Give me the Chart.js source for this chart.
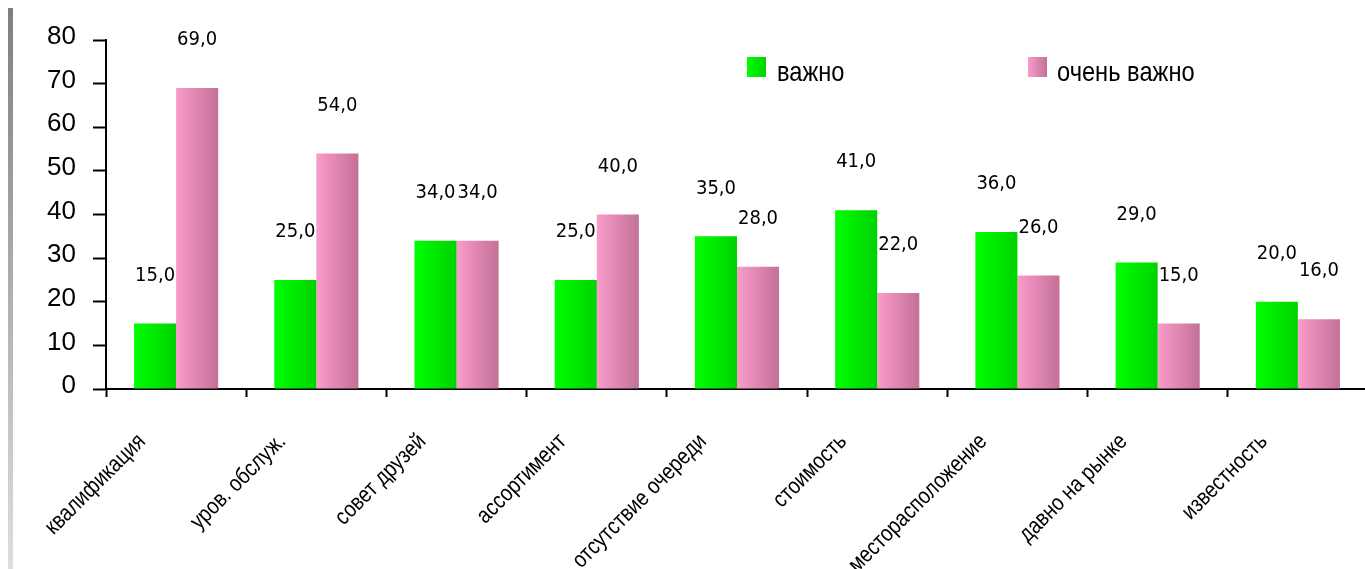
<!DOCTYPE html>
<html>
<head>
<meta charset="utf-8">
<script src="https://cdn.jsdelivr.net/npm/chart.js@4"></script>
<style>
  html, body { margin: 0; padding: 0; background: #fff; overflow: hidden; }
  #wrap { position: relative; width: 1368px; height: 569px; }
</style>
</head>
<body>
<div id="wrap"><canvas id="c" width="1368" height="569"></canvas></div>
<script>
// Survey factors
const categories = ['квалификация', 'уров. обслуж.', 'совет друзей', 'ассортимент',
  'отсутствие очереди', 'стоимость', 'месторасположение', 'давно на рынке', 'известность'];
const seriesNames = ['важно', 'очень важно'];
const important = [15, 25, 34, 25, 35, 41, 36, 29, 20];
const veryImportant = [69, 54, 34, 40, 28, 22, 26, 15, 16];
const yTicks = [0, 10, 20, 30, 40, 50, 60, 70, 80];

// Horizontal gradient stops for each series
const shades = [
  ['#00ff00', '#00d200'],
  ['#fb9bcc', '#c27197']
];

function hGradient(ctx, x0, x1, pair) {
  const g = ctx.createLinearGradient(x0, 0, x1, 0);
  g.addColorStop(0, pair[0]);
  g.addColorStop(1, pair[1]);
  return g;
}

const fmt = v => v.toFixed(1).replace('.', ',');

const decor = {
  id: 'decor',
  beforeDraw(chart) {
    const ctx = chart.ctx;
    // grey strip at the left edge
    const g = ctx.createLinearGradient(0, 8, 0, 569);
    g.addColorStop(0, '#7f7f7f');
    g.addColorStop(1, '#dedede');
    ctx.save();
    ctx.fillStyle = g;
    ctx.fillRect(8, 8, 5, 561);
    ctx.restore();
  },
  beforeDatasetDraw(chart, args) {
    const meta = args.meta;
    const pair = shades[args.index];
    meta.data.forEach(el => {
      const p = el.getProps(['x', 'width'], true);
      el.options = Object.assign({}, el.options, {
        backgroundColor: hGradient(chart.ctx, p.x - p.width / 2, p.x + p.width / 2, pair)
      });
    });
  },
  afterDatasetsDraw(chart) {
    const ctx = chart.ctx;
    ctx.save();
    ctx.fillStyle = '#000';
    ctx.font = '20px "DejaVu Sans Condensed", "DejaVu Sans", sans-serif';
    ctx.textAlign = 'center';
    ctx.textBaseline = 'middle';
    chart.data.datasets.forEach((ds, di) => {
      chart.getDatasetMeta(di).data.forEach((el, i) => {
        const p = el.getProps(['x', 'y'], true);
        ctx.fillText(fmt(ds.data[i]), p.x, p.y - 48);
      });
    });
    ctx.restore();
  },
  afterDraw(chart) {
    const ctx = chart.ctx;
    const xs = chart.scales.x;
    // rotated category labels, slightly condensed
    ctx.save();
    ctx.fillStyle = '#000';
    ctx.font = '23px "Liberation Sans", Arial, sans-serif';
    ctx.textAlign = 'right';
    ctx.textBaseline = 'middle';
    chart.data.labels.forEach((lab, i) => {
      const cx = xs.getPixelForValue(i);
      ctx.save();
      ctx.translate(cx - 34, 438);
      ctx.rotate(-Math.PI / 4);
      ctx.scale(0.85, 1);
      ctx.fillText(lab, 0, 0);
      ctx.restore();
    });
    ctx.restore();

    // legend
    ctx.save();
    ctx.font = '28px "Liberation Sans", Arial, sans-serif';
    ctx.textBaseline = 'alphabetic';
    ctx.textAlign = 'left';
    const boxes = [[747, 777], [1028, 1057]];
    chart.data.datasets.forEach((ds, di) => {
      const [bx, tx] = boxes[di];
      ctx.fillStyle = hGradient(ctx, bx, bx + 19, shades[di]);
      ctx.fillRect(bx, 57, 19, 20);
      ctx.fillStyle = '#000';
      ctx.save();
      ctx.translate(tx, 81);
      ctx.scale(0.845, 1);
      ctx.fillText(ds.label, 0, 0);
      ctx.restore();
    });
    ctx.restore();
  }
};

new Chart(document.getElementById('c'), {
  type: 'bar',
  data: {
    labels: categories,
    datasets: [
      { label: seriesNames[0], data: important, backgroundColor: shades[0][0], borderWidth: 0 },
      { label: seriesNames[1], data: veryImportant, backgroundColor: shades[1][0], borderWidth: 0 }
    ]
  },
  options: {
    responsive: false,
    devicePixelRatio: 1,
    animation: false,
    layout: { padding: { top: 40, right: 0, bottom: 0, left: 0 } },
    datasets: { bar: { categoryPercentage: 0.6, barPercentage: 1.0 } },
    plugins: { legend: { display: false }, tooltip: { enabled: false }, title: { display: false } },
    scales: {
      x: {
        grid: { offset: true, drawOnChartArea: false, drawTicks: true, tickLength: 8, tickWidth: 2, tickColor: '#000' },
        border: { display: true, color: '#000', width: 2 },
        ticks: { display: false },
        afterFit(s) { s.height = 180; }
      },
      y: {
        min: 0, max: 80,
        afterBuildTicks(s) { s.ticks = yTicks.map(v => ({ value: v })); },
        grid: { drawOnChartArea: false, drawTicks: true, tickLength: 13, tickWidth: 2, tickColor: '#000' },
        border: { display: true, color: '#000', width: 2 },
        ticks: {
          color: '#000',
          padding: 17,
          labelOffset: -3,
          font: { family: '"Liberation Sans", Arial, sans-serif', size: 26 }
        },
        afterFit(s) { s.width = 106; }
      }
    }
  },
  plugins: [decor]
});
</script>
</body>
</html>
